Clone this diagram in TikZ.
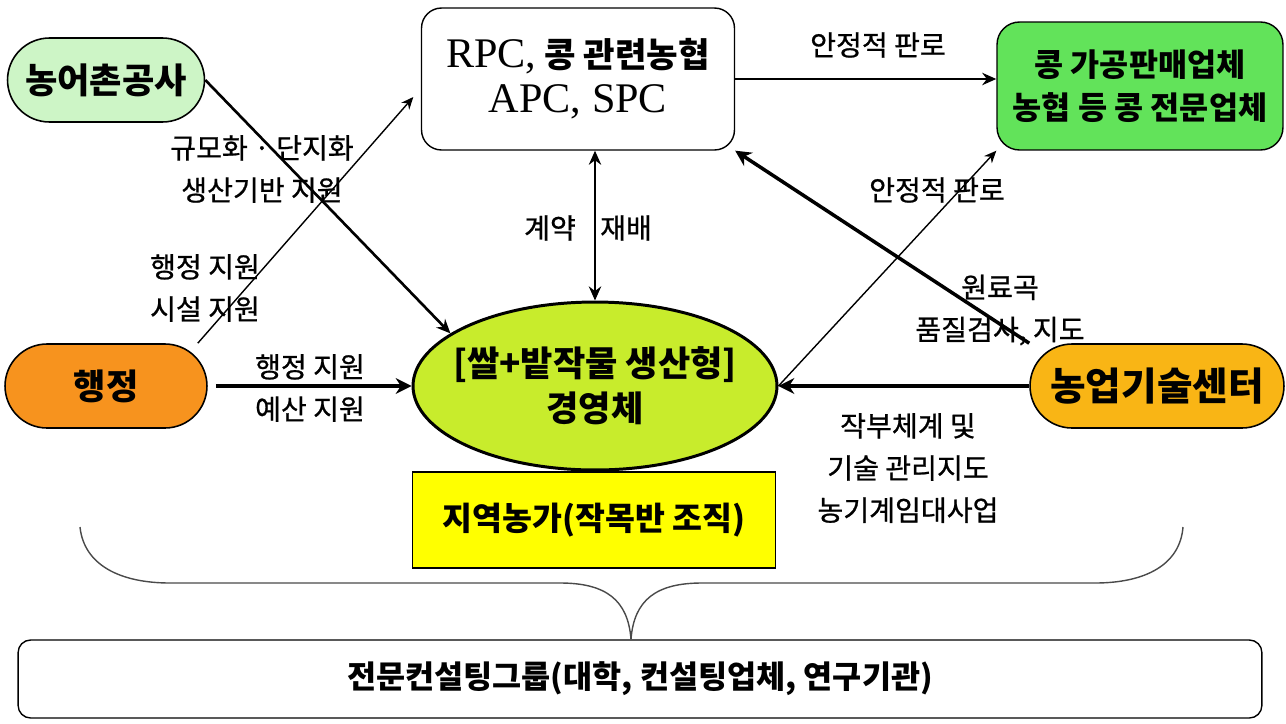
\documentclass[tikz,border=0pt]{standalone}
\usepackage{fontspec}
\setmainfont{Noto Sans CJK KR}
\newfontfamily\latinserif{Liberation Serif}
\newfontfamily\lblfont{Noto Sans CJK KR}[FakeBold=0.8]
\usetikzlibrary{shapes.geometric,arrows.meta,calc}
\definecolor{mintcol}{HTML}{CDF5C6}
\definecolor{leafcol}{HTML}{62E35A}
\definecolor{orangecol}{HTML}{F7931E}
\definecolor{ambercol}{HTML}{F9B515}
\definecolor{limecol}{HTML}{C8EC2C}
\definecolor{farmcol}{HTML}{FFFF00}
\definecolor{bracecol}{HTML}{4A4A4A}

\tikzset{
  pill/.style={draw,line width=0.9pt,rounded corners=0.84cm,minimum height=1.68cm,inner sep=0pt,
    font=\bfseries\fontsize{20}{24}\selectfont},
  lbl/.style={align=center,inner sep=0pt,font=\lblfont\fontsize{16}{24}\selectfont},
  thickarr/.style={line width=2.4pt,-{Stealth[length=9pt,width=9pt]}},
  midarr/.style={line width=1.5pt,-{Stealth[length=8pt,width=7pt]}},
  thinarr/.style={line width=0.8pt,-{Stealth[length=7pt,width=6pt]}}
}

\begin{document}
\begin{tikzpicture}[x=0.02cm,y=-0.02cm]
  \useasboundingbox (0,0) rectangle (1286,724);
  \node[pill,fill=mintcol,minimum width=3.94cm] (nong) at (106,80) {농어촌공사};
  \node[draw,line width=0.8pt,rounded corners=0.4cm,minimum width=6.26cm,minimum height=2.84cm,align=center,
    inner sep=0pt,font=\bfseries\fontsize{19.5}{25.5}\selectfont] (rpc) at (578,79)
    {{\latinserif\mdseries\fontsize{24}{25.5}\selectfont RPC,} 콩 관련농협\\
     {\latinserif\mdseries\fontsize{24}{25.5}\selectfont APC, SPC}};
  \node[draw,line width=0.8pt,fill=leafcol,rounded corners=0.45cm,minimum width=5.72cm,minimum height=2.56cm,
    align=center,inner sep=0pt,font=\bfseries\fontsize{18}{24.5}\selectfont] (grn) at (1140,86)
    {콩 가공판매업체\\농협 등 콩 전문업체};
  \node[pill,fill=orangecol,minimum width=4.04cm] (hj) at (106,386) {행정};
  \node[pill,fill=ambercol,minimum width=5.08cm,font=\bfseries\fontsize{22}{26}\selectfont] (ntc) at (1157,386)
    {농업기술센터};
  \node[ellipse,draw,line width=1.7pt,fill=limecol,minimum width=7.28cm,minimum height=3.36cm,align=center,
    inner xsep=-0.3cm,inner ysep=0pt,font=\bfseries\fontsize{20}{25.5}\selectfont] (ell) at (595,386)
    {[쌀+밭작물 생산형]\\경영체};
  \node[draw,line width=0.8pt,fill=farmcol,minimum width=7.26cm,minimum height=1.92cm,inner sep=0pt,
    font=\bfseries\fontsize{18.5}{22}\selectfont] (farm) at (594,520) {지역농가(작목반 조직)};
  \node[draw,line width=0.8pt,rounded corners=0.25cm,minimum width=24.88cm,minimum height=1.56cm,inner sep=0pt,
    font=\bfseries\fontsize{18}{22}\selectfont] (cons) at (640,679) {전문컨설팅그룹(대학, 컨설팅업체, 연구기관)};
  \coordinate (tip) at ($(cons.north)+(-9,0)$);

  \node[lbl] (l1) at (262,169) {규모화 · 단지화\\생산기반 지원};
  \node[lbl] (l2) at (205,288) {행정 지원\\시설 지원};
  \node[lbl] (l3) at (310,388) {행정 지원\\예산 지원};
  \node[lbl] (l4) at (550,228) {계약};
  \node[lbl] (l5) at (626,228) {재배};
  \node[lbl] (l6) at (878,45) {안정적 판로};
  \node[lbl] (l7) at (937,190) {안정적 판로};
  \node[lbl] (l8) at (1000,310) {원료곡\\품질검사, 지도};
  \node[lbl] (l9) at (908,468) {작부체계 및\\기술 관리지도\\농기계임대사업};

  \draw[midarr] (nong.east) -- (ell.160);
  \draw[thinarr] ([xshift=-0.2cm]hj.north east) -- ([xshift=-0.15cm,yshift=-0.36cm]rpc.west);
  \draw[thickarr] ([xshift=0.16cm]hj.east) -- (ell.west);
  \draw[line width=1.5pt,{Stealth[length=8pt,width=7pt]}-{Stealth[length=8pt,width=7pt]}]
    (ell.north) -- (ell.north |- rpc.south);
  \draw[midarr] (rpc.east) -- (grn.west |- rpc.east);
  \draw[thinarr] (ell.east) -- (grn.south west);
  \draw[thickarr,line width=2pt] (ntc.north west) -- (rpc.south east);
  \draw[thickarr] (ntc.west) -- (ell.east);

  \draw[bracecol,line width=0.8pt] (80,527) .. controls (84,565) and (120,583) .. (170,583) -- (560,583)
    .. controls (606,583) and (628,600) .. (tip)
    .. controls (634,600) and (656,583) .. (702,583) -- (1095,583)
    .. controls (1145,583) and (1180,565) .. (1183,527);
\end{tikzpicture}
\end{document}
